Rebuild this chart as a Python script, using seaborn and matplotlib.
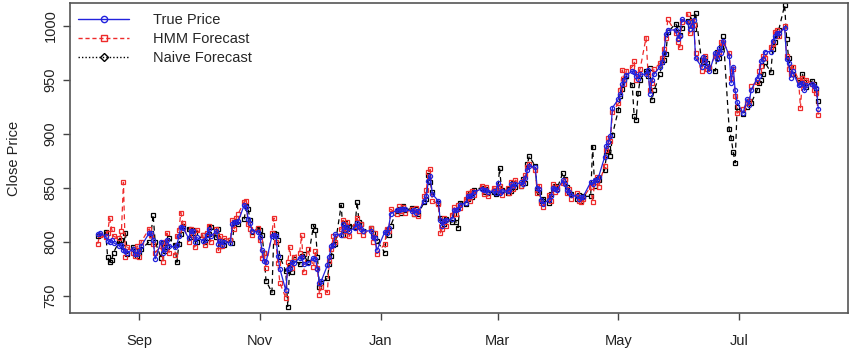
import numpy as np
import pandas as pd
import matplotlib
matplotlib.use("Agg")
import matplotlib.pyplot as plt
import matplotlib.dates as mdates
from matplotlib.lines import Line2D
import seaborn as sns

# ---------------- data ----------------
holidays = ["2016-09-05", "2016-11-24", "2016-12-26", "2017-01-02", "2017-01-16",
            "2017-02-20", "2017-04-14", "2017-05-29", "2017-07-04"]
start_date = "2016-08-11"
end_date = "2017-08-10"

true_aug16 = [807, 808, 805, 801, 800, 802, 799, 796, 797, 792, 791, 790, 793, 789, 789]
true_sep16 = [791, 796, 808, 808, 802, 784, 800, 790, 793, 802, 796, 795, 797, 805, 814, 813, 803, 810, 810, 800, 804]
true_oct16 = [801, 802, 806, 812, 805, 810, 798, 801, 797, 800, 799, 816, 818, 818, 819, 834, 832, 821, 817, 810, 809]
true_nov16 = [804, 792, 782, 781, 805, 806, 805, 787, 775, 755, 775, 776, 781, 780, 785, 786, 779, 780, 785, 784, 775]
true_dec16 = [762, 764, 778, 786, 796, 797, 807, 806, 816, 811, 814, 810, 813, 817, 815, 812, 810, 810, 804, 803, 792]
true_jan17 = [809, 808, 813, 826, 829, 829, 830, 830, 830, 828, 829, 827, 828, 838, 842, 856, 861, 844, 838, 820]
true_feb17 = [815, 819, 820, 821, 829, 829, 830, 834, 836, 842, 842, 843, 846, 849, 848, 848, 846, 847, 845]
true_mar17 = [854, 845, 847, 847, 848, 853, 852, 853, 855, 853, 859, 866, 870, 869, 850, 849, 839, 835, 839, 842, 850, 849, 848]
true_apr17 = [857, 853, 848, 846, 843, 842, 840, 841, 841, 855, 853, 857, 857, 860, 878, 889, 892, 898, 924]
true_may17 = [932, 937, 946, 950, 954, 958, 957, 953, 951, 955, 955, 959, 937, 950, 955, 962, 966, 975, 992, 996, 996, 988]
true_jun17 = [990, 1006, 1003, 997, 1000, 1005, 970, 962, 971, 967, 963, 958, 975, 969, 979, 975, 986, 972, 947, 962, 940, 929]
true_jul17 = [919, 932, 927, 940, 951, 953, 967, 969, 976, 976, 986, 990, 993, 993, 998, 969, 965, 952, 958, 945]
true_aug17 = [946, 947, 940, 945, 946, 944, 942, 923]

hmm_aug16 = [798, 806, 804, 808, 822, 812, 805, 803, 810, 855, 786, 795, 790, 787, 796]
hmm_sep16 = [786, 800, 812, 806, 798, 790, 796, 781, 800, 808, 790, 788, 805, 811, 827, 817, 800, 812, 806, 795, 811]
hmm_oct16 = [806, 797, 808, 815, 800, 812, 792, 805, 796, 803, 802, 820, 812, 822, 826, 837, 838, 816, 812, 806, 813]
hmm_nov16 = [802, 785, 790, 776, 808, 822, 800, 780, 762, 748, 781, 795, 776, 786, 790, 806, 772, 793, 777, 791, 776]
hmm_dec16 = [751, 758, 753, 782, 793, 805, 800, 812, 820, 806, 818, 805, 815, 822, 810, 816, 806, 813, 800, 808, 789]
hmm_jan17 = [798, 812, 810, 830, 826, 833, 828, 832, 827, 830, 826, 831, 824, 842, 848, 865, 867, 838, 835, 808]
hmm_feb17 = [812, 822, 815, 825, 832, 826, 834, 831, 840, 845, 838, 847, 843, 852, 844, 851, 842, 850, 848]
hmm_mar17 = [850, 852, 843, 850, 845, 855, 849, 857, 852, 856, 862, 869, 872, 866, 845, 852, 836, 832, 843, 838, 853, 846, 851]
hmm_apr17 = [854, 857, 845, 849, 840, 845, 838, 837, 840, 851, 837, 855, 860, 851, 870, 885, 896, 893, 920]
hmm_may17 = [928, 940, 959, 946, 958, 962, 967, 950, 955, 960, 989, 955, 940, 947, 960, 965, 970, 978, 989, 1006, 993, 985]
hmm_jun17 = [980, 1003, 1011, 993, 1004, 1001, 975, 958, 968, 972, 960, 962, 972, 973, 976, 985, 984, 975, 952, 960, 935, 919]
hmm_jul17 = [923, 928, 930, 944, 948, 958, 963, 972, 970, 980, 983, 994, 996, 990, 1000, 972, 960, 955, 962, 950]
hmm_aug17 = [924, 952, 945, 950, 946, 940, 938, 917]

naive_aug16 = [805, 806, 809, 786, 781, 783, 790, 801, 802, 795, 808, 789, 795, 791, 787]
naive_sep16 = [790, 793, 800, 808, 825, 800, 785, 799, 791, 795, 803, 797, 781, 798, 807, 815, 812, 804, 811, 808, 800]
naive_oct16 = [806, 800, 803, 807, 814, 804, 812, 796, 801, 797, 802, 799, 817, 819, 816, 821, 833, 830, 820, 809, 812]
naive_nov16 = [811, 806, 790, 764, 753, 808, 807, 802, 786, 773, 740, 778, 772, 784, 779, 787, 789, 781, 815, 811, 786]
naive_dec16 = [758, 762, 766, 779, 787, 797, 798, 834, 806, 817, 812, 815, 814, 837, 818, 816, 810, 813, 808, 803, 801]
naive_jan17 = [790, 811, 806, 815, 828, 830, 827, 833, 829, 831, 826, 830, 826, 837, 840, 862, 855, 846, 836, 822]
naive_feb17 = [819, 816, 821, 818, 826, 818, 813, 836, 835, 840, 845, 841, 848, 850, 846, 849, 845, 846, 844]
naive_mar17 = [846, 868, 848, 845, 849, 847, 854, 851, 852, 858, 854, 872, 879, 870, 848, 846, 838, 840, 836, 844, 850, 852, 849]
naive_apr17 = [864, 858, 851, 846, 844, 840, 843, 838, 842, 842, 888, 852, 858, 857, 866, 880, 887, 879, 899]
naive_may17 = [922, 935, 941, 950, 953, 945, 916, 913, 938, 950, 958, 953, 961, 931, 940, 955, 966, 968, 974, 994, 1002, 998]
naive_jun17 = [991, 998, 1004, 1001, 1008, 997, 1012, 968, 966, 970, 965, 961, 958, 976, 970, 980, 990, 904, 896, 883, 873, 925]
naive_jul17 = [918, 925, 930, 928, 940, 947, 950, 955, 966, 957, 978, 985, 990, 996, 1019, 988, 970, 962, 955, 950]
naive_aug17 = [948, 955, 948, 943, 949, 946, 941, 930]

tick_dates = ["2016-09-01", "2016-11-01", "2017-01-01", "2017-03-01", "2017-05-01", "2017-07-01"]
tick_labels = ["Sep", "Nov", "Jan", "Mar", "May", "Jul"]
y_ticks = [750, 800, 850, 900, 950, 1000]

true_price = (true_aug16 + true_sep16 + true_oct16 + true_nov16 + true_dec16 + true_jan17 + true_feb17
              + true_mar17 + true_apr17 + true_may17 + true_jun17 + true_jul17 + true_aug17)
hmm_fc = (hmm_aug16 + hmm_sep16 + hmm_oct16 + hmm_nov16 + hmm_dec16 + hmm_jan17 + hmm_feb17
          + hmm_mar17 + hmm_apr17 + hmm_may17 + hmm_jun17 + hmm_jul17 + hmm_aug17)
naive_fc = (naive_aug16 + naive_sep16 + naive_oct16 + naive_nov16 + naive_dec16 + naive_jan17 + naive_feb17
            + naive_mar17 + naive_apr17 + naive_may17 + naive_jun17 + naive_jul17 + naive_aug17)

dates = pd.bdate_range(start_date, end_date, freq="C", holidays=holidays)
n = min(len(dates), len(true_price), len(hmm_fc), len(naive_fc))
df = pd.DataFrame({"date": dates[:n], "true": true_price[:n], "hmm": hmm_fc[:n], "naive": naive_fc[:n]})

# ---------------- plot ----------------
sns.set_style("white")
plt.rcParams["font.family"] = ["Liberation Sans", "DejaVu Sans"]

fig = plt.figure(figsize=(8.5, 3.55), dpi=100)
ax = fig.add_axes([70 / 850, 1 - 313 / 355, (848 - 70) / 850, (313 - 3) / 355])

ms = 3.0
sns.lineplot(data=df, x="date", y="naive", ax=ax, color="black", lw=0.9,
             linestyle=(0, (4, 3)), marker="s", markersize=ms, markerfacecolor="none",
             markeredgecolor="black", markeredgewidth=0.9, zorder=2)
sns.lineplot(data=df, x="date", y="hmm", ax=ax, color="#ee2a2a", lw=0.9,
             linestyle=(0, (4, 3)), marker="s", markersize=ms, markerfacecolor="none",
             markeredgecolor="#ee2a2a", markeredgewidth=0.9, zorder=3)
sns.lineplot(data=df, x="date", y="true", ax=ax, color="#2222dd", lw=0.9,
             marker="o", markersize=ms, markerfacecolor="none",
             markeredgecolor="#2222dd", markeredgewidth=0.9, zorder=4)

ax.set_xlim(pd.Timestamp("2016-07-28"), pd.Timestamp("2017-08-25"))
ax.set_ylim(734, 1021)
ax.set_xticks(pd.to_datetime(tick_dates))
ax.set_xticklabels(tick_labels)
ax.set_yticks(y_ticks)
ax.set_yticklabels([str(v) for v in y_ticks], rotation=90, va="center")
ax.set_xlabel("")
ax.set_ylabel("Close Price", fontsize=10.5, color="#222222", labelpad=16)
ax.tick_params(axis="both", direction="out", length=5, width=1, color="#444444",
               labelsize=10.5, labelcolor="#222222", bottom=True, left=True, pad=4)
ax.tick_params(axis="x", pad=10)
for s in ax.spines.values():
    s.set_visible(True)
    s.set_color("#555555")
    s.set_linewidth(1.2)

handles = [
    Line2D([], [], color="#2222dd", lw=1.0, marker="o", markersize=4.5,
           markerfacecolor="none", markeredgecolor="#2222dd"),
    Line2D([], [], color="#ee2a2a", lw=1.0, linestyle=(0, (3, 2)), marker="s", markersize=4.5,
           markerfacecolor="none", markeredgecolor="#ee2a2a"),
    Line2D([], [], color="black", lw=1.0, linestyle=(0, (1, 1.5)), marker="D", markersize=4.5,
           markerfacecolor="none", markeredgecolor="black"),
]
ax.legend(handles, ["True Price", "HMM Forecast", "Naive Forecast"], loc="upper left",
          frameon=False, fontsize=10.5, handlelength=3.5, handletextpad=1.6,
          labelspacing=0.32, borderaxespad=0.0, bbox_to_anchor=(0.003, 0.985))

fig.savefig("out.png", dpi=100)
